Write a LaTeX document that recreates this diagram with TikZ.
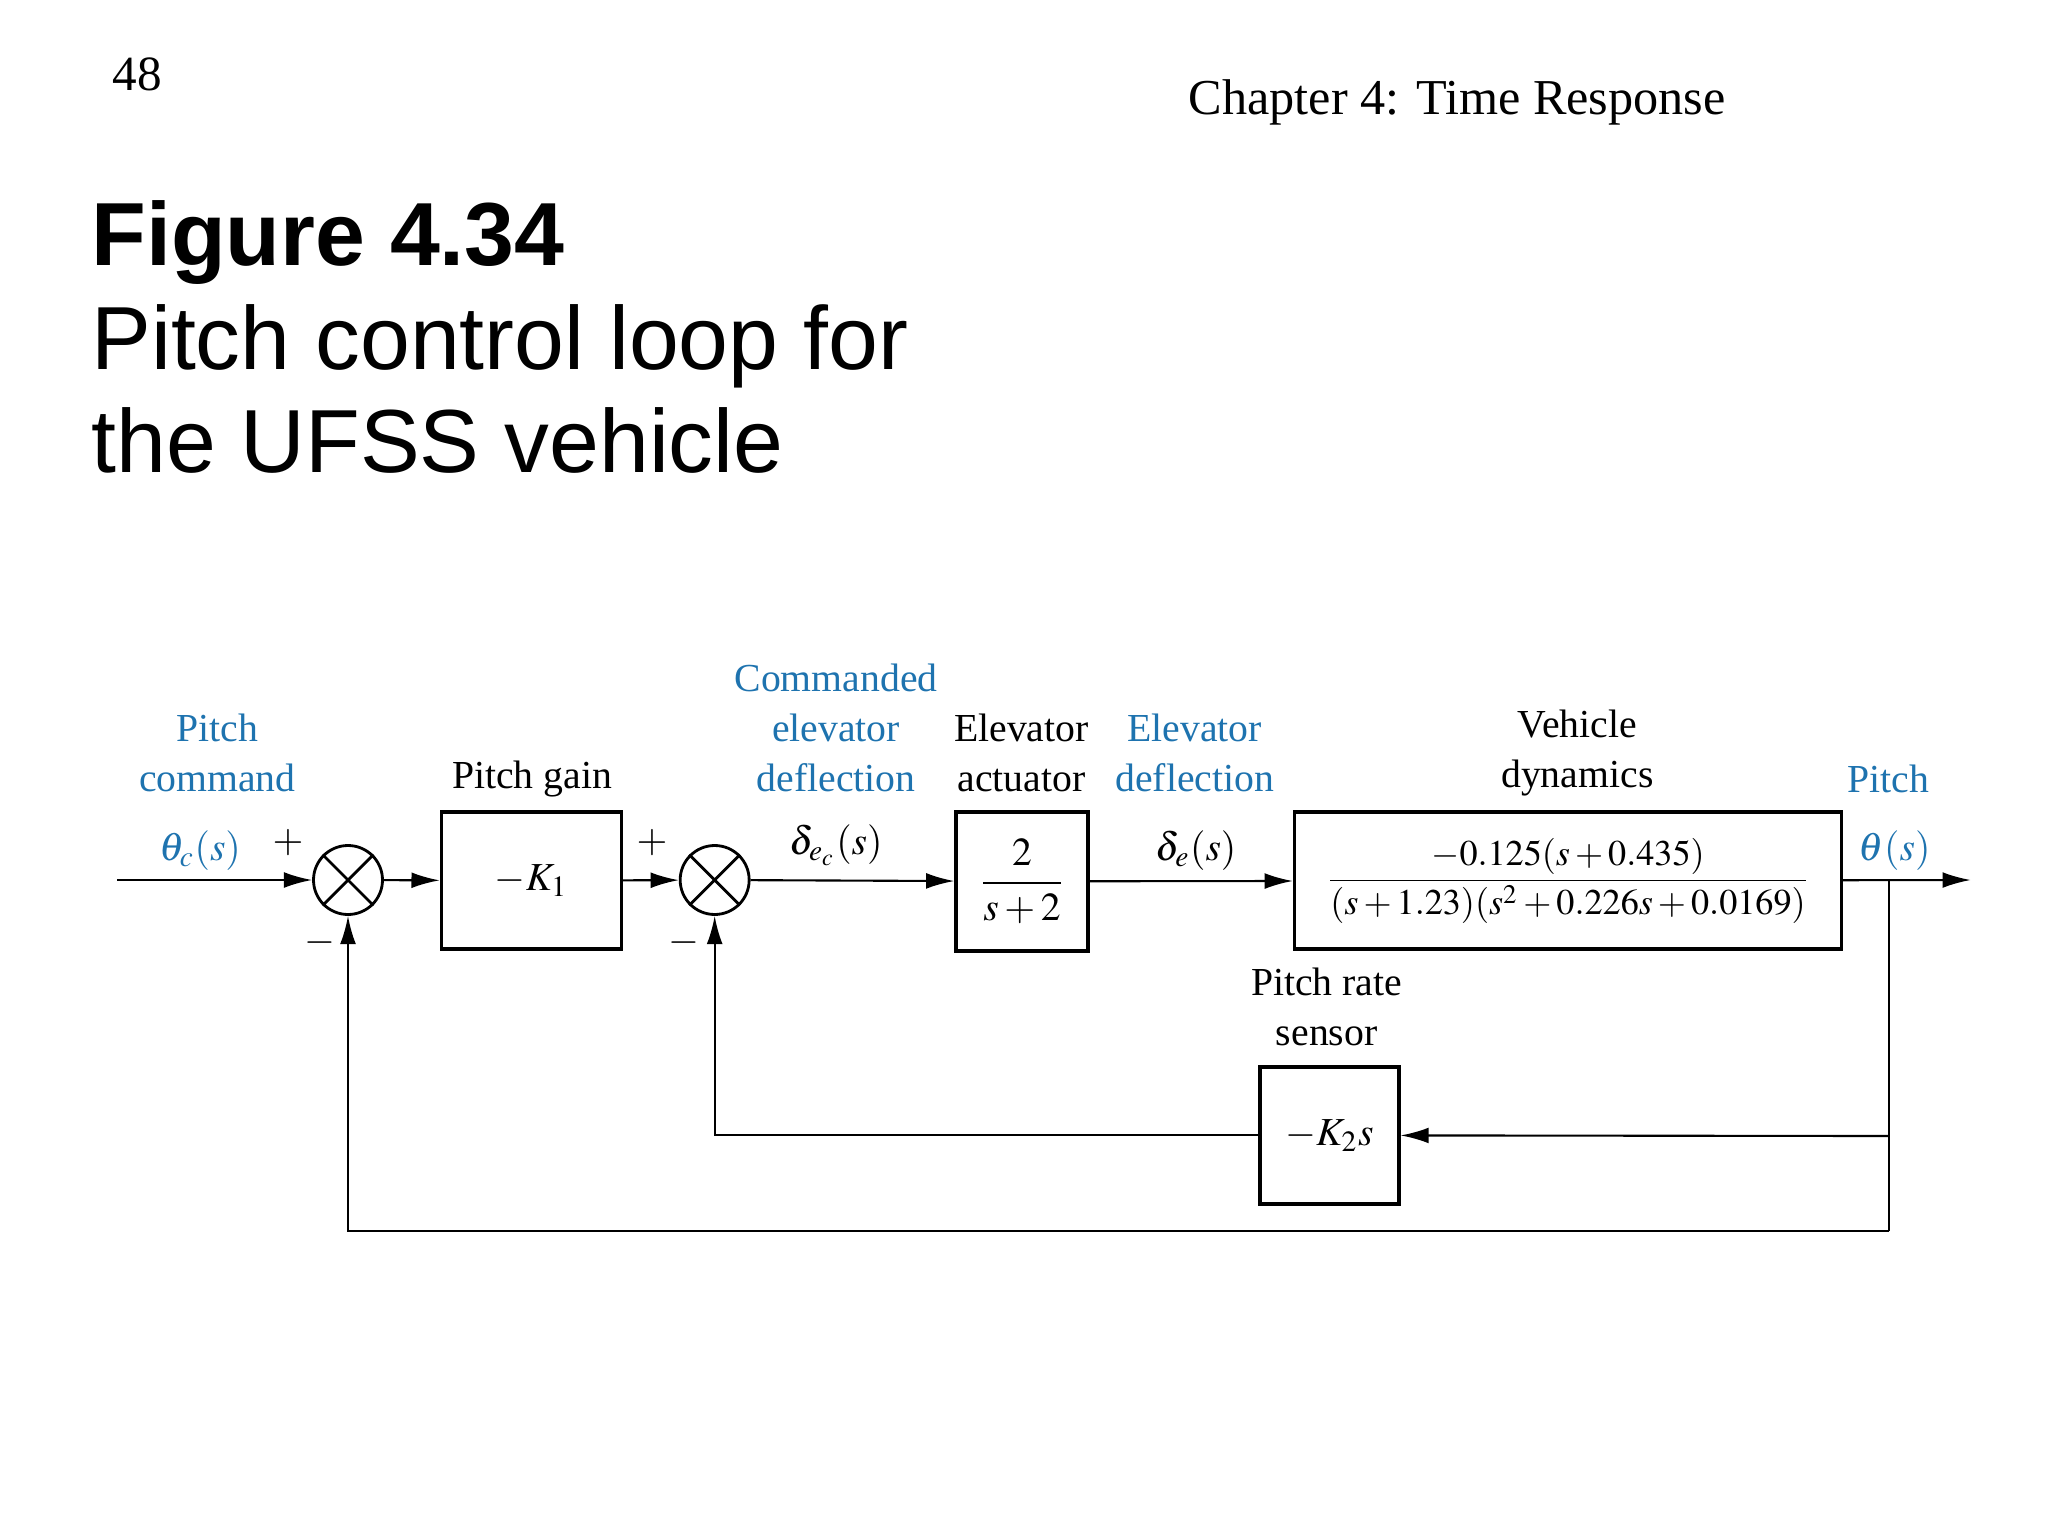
\documentclass[tikz,border=0pt]{standalone}
\usepackage{amsmath}
\usepackage{mathptmx}
\usepackage{fontspec}
\setmainfont{Liberation Serif}
\newfontfamily\sansf{Liberation Sans}
\usetikzlibrary{arrows.meta}
\definecolor{capblue}{RGB}{30,115,175}
\begin{document}
\begin{tikzpicture}[x=0.013333cm,y=-0.013333cm,
  txt/.style={font=\fontsize{11.3}{14.2}\selectfont, align=center, inner sep=0pt},
  lab/.style={txt, text=capblue},
  blk/.style={draw, line width=1pt, inner sep=0pt, font=\fontsize{11.3}{14.2}\selectfont},
  sum/.style={draw, circle, line width=0.8pt, minimum size=0.69cm, inner sep=0pt},
  sig/.style={line width=0.6pt, -{Latex[length=8pt,width=4.5pt]}},
  ln/.style={line width=0.6pt}]
\useasboundingbox (0,0) rectangle (1536,1152);
% header and caption
\node[anchor=base west, font=\fontsize{14}{16}\selectfont, inner sep=0pt] (pg) at (84,68) {48};
\node[anchor=base west, font=\fontsize{14.3}{16}\selectfont, inner sep=0pt] (ch) at (891,86) {Chapter 4: Time Response};
\node[anchor=north west, font=\sansf\fontsize{25.5}{29.5}\selectfont, align=left, inner sep=0pt] (cap) at (68,150)
  {\textbf{Figure 4.34}\\Pitch control loop for\\the UFSS vehicle};
% blocks
\node[sum] (s1) at (261,660) {};
\node[blk, minimum width=1.8cm, minimum height=1.37cm] (k1) at (398.5,660.5) {$-K_1$};
\node[sum] (s2) at (536,660) {};
\node[blk, minimum width=1.32cm, minimum height=1.39cm] (act) at (766.5,661) {$\dfrac{2}{s+2}$};
\node[blk, minimum width=5.47cm, minimum height=1.37cm] (veh) at (1176,660.5)
  {\fontsize{10.3}{12}\selectfont$\dfrac{-0.125(s+0.435)}{(s+1.23)(s^2+0.226s+0.0169)}$};
\node[blk, minimum width=1.39cm, minimum height=1.37cm] (sen) at (997,851.5) {$-K_2s$};
\foreach \s in {s1,s2}{
  \draw[line width=0.8pt] (\s.north west) -- (\s.south east) (\s.north east) -- (\s.south west);}
% connection points
\coordinate (in) at (88,660);
\coordinate (out) at (1478,660);
\coordinate (po) at (1417,660);
\coordinate (pf) at (1417,852);
\coordinate (pb) at (1417,923);
% forward path
\draw[sig] (in) -- (s1);
\draw[sig] (s1) -- (k1);
\draw[sig] (k1) -- (s2);
\draw[sig] (s2) -- (act);
\draw[sig] (act) -- (veh);
\draw[sig] (veh) -- (out);
% feedback
\draw[ln] (po) -- (pb);
\draw[sig] (pf) -- (sen);
\draw[sig] (sen.west) -| (s2.south);
\draw[sig] (pb) -| (s1.south);
% labels
\node[lab] (l1) at (163,565) {Pitch\\command};
\node[lab] (l2) at (150,638) {$\theta_c(s)$};
\node[txt] (p1) at (216,632) {$+$};
\node[txt] (m1) at (240,707) {$-$};
\node[txt] (l3) at (399,584) {Pitch gain};
\node[txt] (p2) at (489,632) {$+$};
\node[txt] (m2) at (513,707) {$-$};
\node[lab] (l4) at (627,546) {Commanded\\elevator\\deflection};
\node[txt] (l5) at (627,634) {$\delta_{e_c}(s)$};
\node[txt] (l6) at (766,565) {Elevator\\actuator};
\node[lab] (l7) at (896,565) {Elevator\\deflection};
\node[txt] (l8) at (897,638) {$\delta_e(s)$};
\node[txt] (l9) at (1183,565) {Vehicle\\dynamics};
\node[lab] (l10) at (1416,584) {Pitch};
\node[lab] (l11) at (1421,638) {$\theta(s)$};
\node[txt] (l12) at (995,755) {Pitch rate\\sensor};
\end{tikzpicture}
\end{document}
